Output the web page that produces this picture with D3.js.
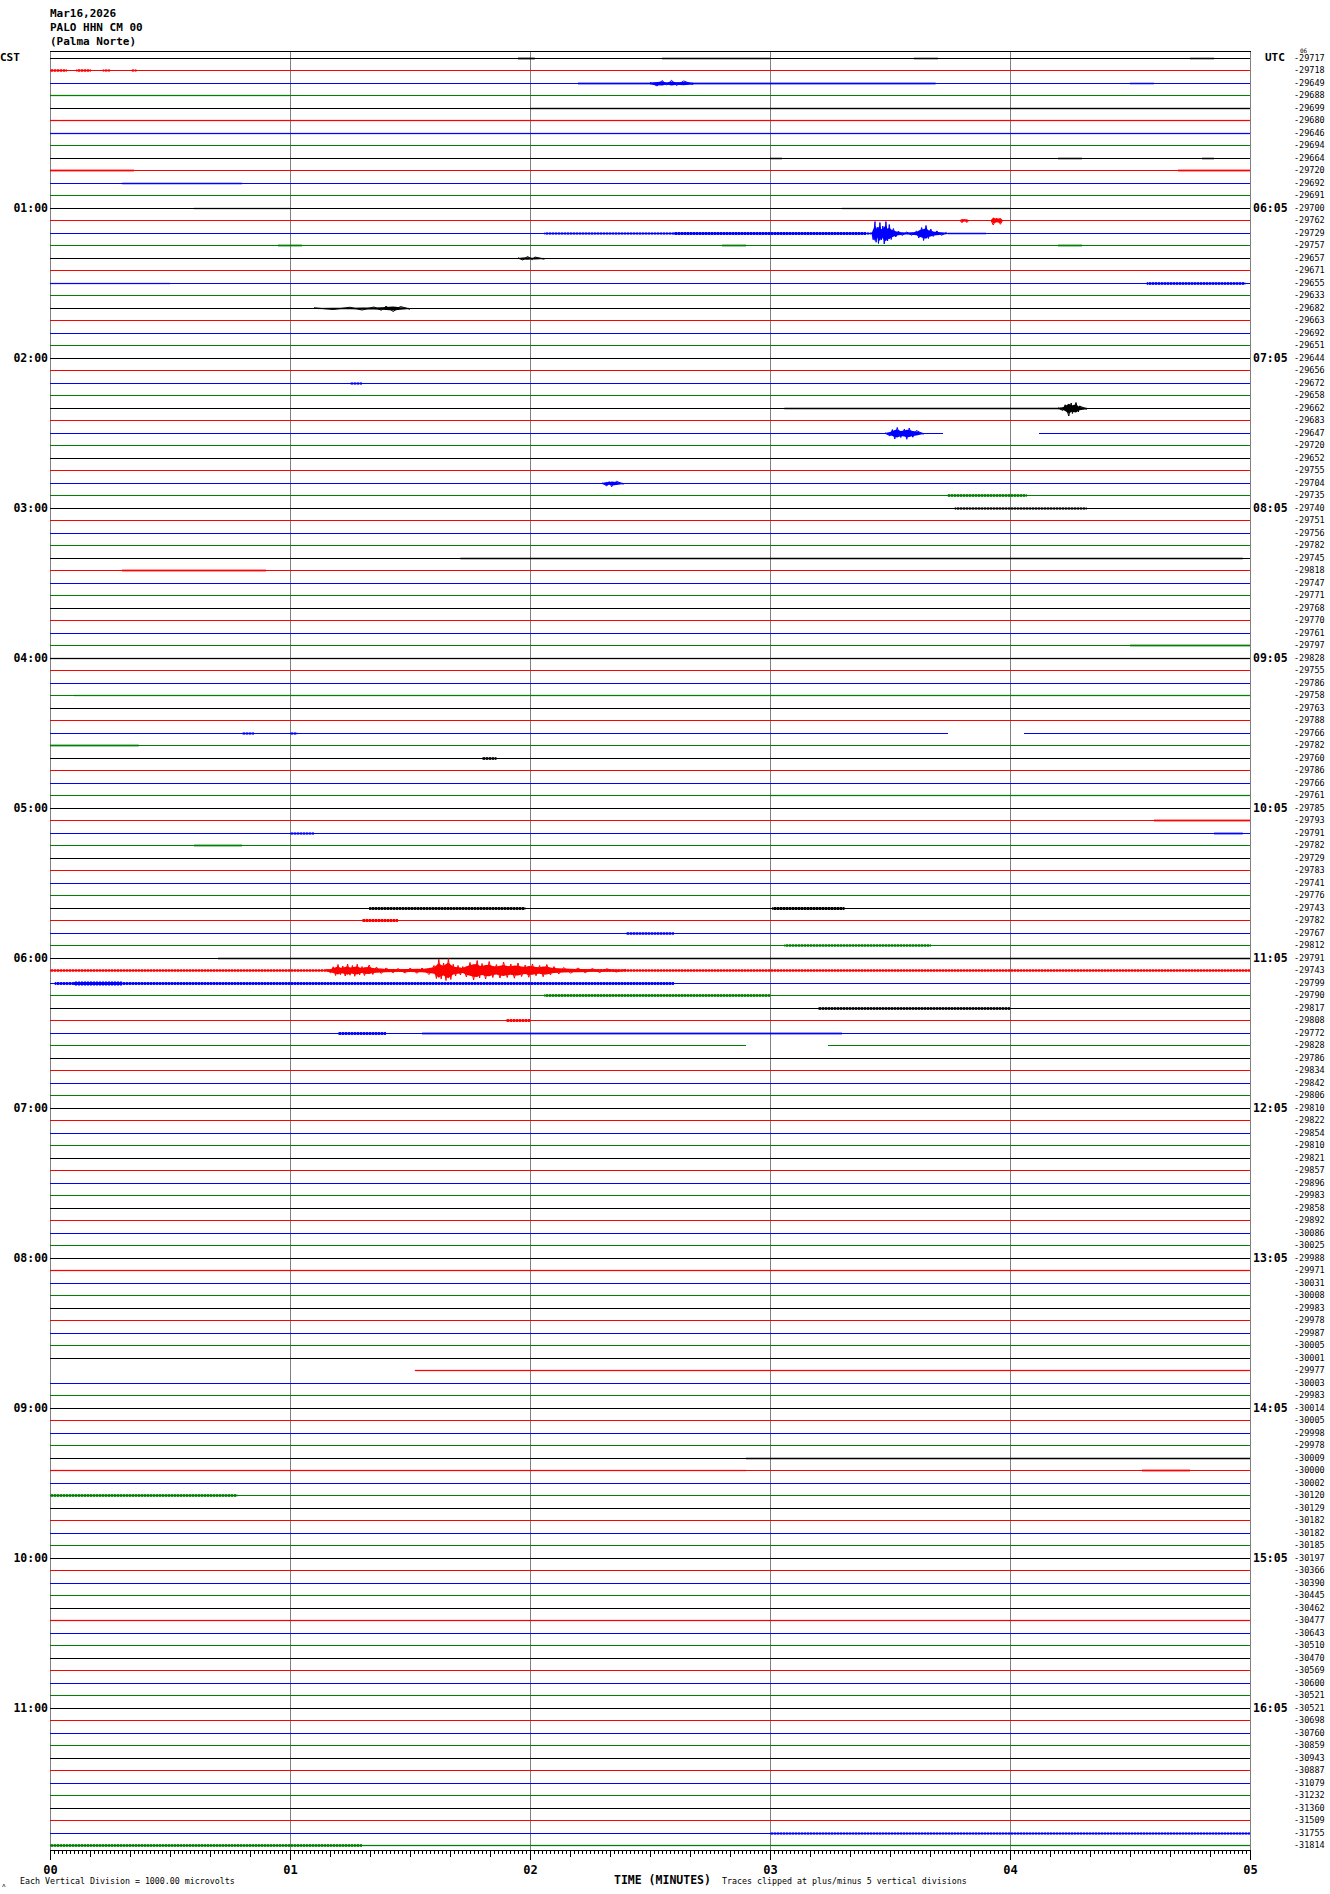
<!DOCTYPE html>
<html><head><meta charset="utf-8">
<script src="https://cdn.jsdelivr.net/npm/d3@7"></script>
<style>body{margin:0;background:#fff}svg{display:block}</style>
</head><body><svg id="c" width="1330" height="1894"></svg>
<script>
// ---------- DATA ----------
const titleLines = ["Mar16,2026", "PALO HHN CM 00", "(Palma Norte)"];
const rightLabels = [
-29717,-29718,-29649,-29688,-29699,-29680,-29646,-29694,-29664,-29720,-29692,-29691,
-29700,-29762,-29729,-29757,-29657,-29671,-29655,-29633,-29682,-29663,-29692,-29651,
-29644,-29656,-29672,-29658,-29662,-29683,-29647,-29720,-29652,-29755,-29704,-29735,
-29740,-29751,-29756,-29782,-29745,-29818,-29747,-29771,-29768,-29770,-29761,-29797,
-29828,-29755,-29786,-29758,-29763,-29788,-29766,-29782,-29760,-29786,-29766,-29761,
-29785,-29793,-29791,-29782,-29729,-29783,-29741,-29776,-29743,-29782,-29767,-29812,
-29791,-29743,-29799,-29790,-29817,-29808,-29772,-29828,-29786,-29834,-29842,-29806,
-29810,-29822,-29854,-29810,-29821,-29857,-29896,-29983,-29858,-29892,-30086,-30025,
-29988,-29971,-30031,-30008,-29983,-29978,-29987,-30005,-30001,-29977,-30003,-29983,
-30014,-30005,-29998,-29978,-30009,-30000,-30002,-30120,-30129,-30182,-30182,-30185,
-30197,-30366,-30390,-30445,-30462,-30477,-30643,-30510,-30470,-30569,-30600,-30521,
-30521,-30698,-30760,-30859,-30943,-30887,-31079,-31232,-31360,-31509,-31755,-31814];
const leftHourLabels  = ["01:00","02:00","03:00","04:00","05:00","06:00","07:00","08:00","09:00","10:00","11:00"];
const rightHourLabels = ["06:05","07:05","08:05","09:05","10:05","11:05","12:05","13:05","14:05","15:05","16:05"];
const minuteLabels = ["00","01","02","03","04","05"];
const traceColors = ["#000000","#ff0000","#0000ff","#008000"];

// low-level noise bands: [trace, startMin, endMin, amplitude (vertical divisions)]
const noiseBands = [
[0,1.95,2.02,0.35],[0,2.55,3.0,0.3],[0,3.6,3.7,0.3],[0,4.75,4.85,0.3],
[1,0.0,0.07,0.45],[1,0.11,0.17,0.45],[1,0.22,0.25,0.4],[1,0.34,0.36,0.4],
[2,2.20,3.69,0.35],[2,4.5,4.6,0.3],
[3,0.0,1.0,0.25],[4,2.0,5.0,0.28],[5,0.0,5.0,0.25],[6,0.0,5.0,0.25],[7,0.0,5.0,0.2],
[8,3.0,3.05,0.3],[8,4.2,4.3,0.3],[8,4.8,4.85,0.3],
[9,0.0,0.35,0.35],[9,4.7,5.0,0.35],[10,0.3,0.8,0.3],
[12,0.6,1.0,0.25],[12,3.3,4.0,0.25],
[14,2.06,3.42,0.4],[14,2.6,3.4,0.55],[14,3.74,3.9,0.3],
[15,0.95,1.05,0.35],[15,2.8,2.9,0.35],[15,4.2,4.3,0.35],
[17,0.0,5.0,0.2],[18,4.57,4.98,0.5],[18,0.0,0.5,0.25],
[21,0.0,5.0,0.2],[25,0.0,5.0,0.2],[26,1.25,1.3,0.4],
[28,3.06,4.32,0.3],[31,0.0,5.0,0.2],[33,0.0,5.0,0.2],
[35,3.74,4.07,0.5],[36,3.77,4.32,0.4],[40,1.71,4.97,0.3],[41,0.3,0.9,0.35],
[47,4.5,5.0,0.35],[48,0.0,5.0,0.25],[49,0.0,5.0,0.2],[51,0.1,5.0,0.25],[53,0.0,5.0,0.2],
[54,0.80,0.85,0.4],[54,1.0,1.03,0.4],[55,0.0,0.37,0.35],
[56,1.80,1.86,0.5],[59,3.0,5.0,0.25],[61,4.6,5.0,0.35],[62,1.0,1.1,0.4],[62,4.85,4.97,0.35],[63,0.6,0.8,0.35],
[67,0.0,5.0,0.2],[68,1.33,1.98,0.55],[68,3.01,3.31,0.6],[69,1.30,1.45,0.6],[70,2.4,2.6,0.45],
[71,3.06,3.67,0.45],[72,0.7,5.0,0.3],[73,0.0,5.0,0.45],
[74,0.02,2.6,0.55],[74,0.1,0.3,0.8],[75,2.06,3.0,0.5],[76,3.2,4.0,0.5],[77,1.9,2.0,0.55],
[78,1.2,1.4,0.55],[78,1.55,3.3,0.35],[81,0.0,5.0,0.2],[85,0.0,5.0,0.2],[89,0.0,5.0,0.2],
[93,0.0,5.0,0.2],[97,0.0,5.0,0.25],[101,0.0,5.0,0.2],[105,1.52,5.0,0.25],
[112,2.9,5.0,0.3],[113,0.0,2.9,0.25],[113,4.55,4.75,0.35],
[115,0.0,0.78,0.5],[117,0.0,5.0,0.2],[121,0.0,5.0,0.2],[125,0.0,5.0,0.25],[129,0.0,5.0,0.2],
[133,0.0,5.0,0.2],[137,0.0,5.0,0.2],[141,0.0,5.0,0.2],[142,3.0,5.0,0.4],[143,0.0,1.3,0.5],[143,1.3,5.0,0.25]
];

// larger events: [trace, [[minute, peak amplitude in divisions], ...]]
const bursts = [
[2,[[2.50,0.4],[2.53,1.0],[2.55,1.2],[2.57,0.6],[2.59,1.3],[2.61,0.8],[2.64,1.0],[2.68,0.4]]],
[13,[[3.79,0.2],[3.80,0.9],[3.81,0.6],[3.82,0.8],[3.83,0.2]]],
[13,[[3.92,0.2],[3.93,1.8],[3.945,1.0],[3.96,1.5],[3.97,0.2]]],
[14,[[3.424,0.5],[3.43,2.5],[3.4375,4.8],[3.442,3.5],[3.447,2.5],[3.452,4.0],[3.458,4.4],[3.464,2.6],[3.47,3.0],[3.476,4.2],[3.483,4.8],[3.49,3.0],[3.497,3.6],[3.505,2.4],[3.514,2.0],[3.524,1.4],[3.535,1.0],[3.55,0.8],[3.57,0.6],[3.59,0.7],[3.611,1.0],[3.62,1.8],[3.632,2.4],[3.64,2.8],[3.65,3.2],[3.66,2.0],[3.67,1.8],[3.68,1.2],[3.695,1.0],[3.715,0.7],[3.736,0.5]]],
[16,[[1.95,0.3],[1.97,0.6],[1.99,0.8],[2.01,0.5],[2.02,0.6],[2.06,0.3]]],
[20,[[1.10,0.3],[1.18,0.4],[1.25,0.5],[1.30,0.6],[1.35,0.6],[1.38,0.7],[1.40,0.9],[1.43,1.2],[1.46,0.8],[1.50,0.3]]],
[28,[[4.20,0.3],[4.22,0.8],[4.23,1.5],[4.245,3.0],[4.255,2.2],[4.26,2.0],[4.275,2.4],[4.285,1.4],[4.29,1.0],[4.32,0.3]]],
[30,[[3.48,0.3],[3.50,1.0],[3.51,1.6],[3.52,2.2],[3.53,2.4],[3.545,1.6],[3.56,1.8],[3.57,2.3],[3.58,2.2],[3.595,1.5],[3.61,1.2],[3.64,0.3]]],
[34,[[2.30,0.3],[2.32,1.0],[2.33,0.8],[2.34,1.3],[2.36,0.9],[2.39,0.3]]],
[73,[[1.15,0.5],[1.17,1.0],[1.18,1.5],[1.19,2.0],[1.20,2.4],[1.21,1.7],[1.22,1.8],[1.23,2.2],[1.24,2.6],[1.25,1.9],[1.26,2.0],[1.27,2.3],[1.28,2.5],[1.29,1.8],[1.30,1.6],[1.31,2.0],[1.33,2.2],[1.345,1.6],[1.36,1.4],[1.38,1.2],[1.40,1.0],[1.43,0.9],[1.45,0.8],[1.48,1.0],[1.50,0.9],[1.53,1.1],[1.55,1.0],[1.58,1.6],[1.60,2.0],[1.61,3.2],[1.62,4.5],[1.63,3.4],[1.64,3.0],[1.65,4.0],[1.66,4.8],[1.67,3.6],[1.68,2.5],[1.69,2.2],[1.70,2.0],[1.71,1.8],[1.72,1.6],[1.735,2.6],[1.75,3.2],[1.765,3.8],[1.78,4.0],[1.79,3.0],[1.80,2.8],[1.815,3.4],[1.83,3.6],[1.845,2.8],[1.86,2.4],[1.875,3.0],[1.89,3.4],[1.905,2.8],[1.92,2.6],[1.935,3.1],[1.95,3.0],[1.965,2.4],[1.98,2.2],[1.995,2.7],[2.01,2.6],[2.025,2.1],[2.04,2.0],[2.055,2.5],[2.07,2.4],[2.085,1.8],[2.10,1.6],[2.12,1.4],[2.14,1.2],[2.17,1.1],[2.20,1.0],[2.23,0.9],[2.26,0.8],[2.29,0.8],[2.32,0.7],[2.36,0.6],[2.40,0.5]]]
];

// data gaps: [trace, startMin, endMin]
const gaps = [[30,3.72,4.12],[54,3.74,4.06],[79,2.90,3.24],[105,0.0,1.52]];

// ---------- DRAW ----------
const svg = d3.select("#c");
svg.append("rect").attr("width",1330).attr("height",1894).attr("fill","#fff");
const nT = rightLabels.length;
const x = d3.scaleLinear().domain([0,5]).range([50,1250]);
const yT = d3.scaleLinear().domain([0,nT-1]).range([57.7,1845.2]);
const amp = d3.scaleLinear().domain([0,5]).range([0,12.5]).clamp(true);
const yRow = i => Math.round(yT(i)) + 0.5;
const mono = "'DejaVu Sans Mono', 'Liberation Mono', monospace";

// hatch patterns per colour (gives the noise bands a hairy texture)
const defs = svg.append("defs");
traceColors.forEach((c,k)=>{
  const p = defs.append("pattern").attr("id","hatch"+k).attr("patternUnits","userSpaceOnUse")
    .attr("width",3).attr("height",4);
  p.append("rect").attr("width",2).attr("height",4).attr("fill",c);
});

// title
svg.selectAll("text.title").data(titleLines).join("text")
  .attr("x",50).attr("y",(d,i)=>16.5+i*14)
  .attr("font-family",mono).attr("font-weight","bold").attr("font-size",11).text(d=>d);
svg.append("text").attr("x",0).attr("y",61).attr("font-family",mono).attr("font-weight","bold").attr("font-size",11).text("CST");
svg.append("text").attr("x",1265).attr("y",61).attr("font-family",mono).attr("font-weight","bold").attr("font-size",11).text("UTC");
svg.append("text").attr("x",1300).attr("y",53).attr("font-family",mono).attr("font-size",6).text("06");

// grid
const grid = svg.append("g");
grid.selectAll("line").data(d3.range(0,6)).join("line")
  .attr("x1",d=>Math.round(x(d))+0.5).attr("x2",d=>Math.round(x(d))+0.5)
  .attr("y1",51).attr("y2",1850).attr("stroke","#808080").attr("stroke-width",1);
grid.append("line").attr("x1",50).attr("x2",1251).attr("y1",51.5).attr("y2",51.5).attr("stroke","#000");

// traces
const gT = svg.append("g");
const line = d3.line().x(d=>x(d[0])).y(d=>d[1]);
for (let i=0;i<nT;i++){
  const k4 = i%4, col = traceColors[k4];
  const yb = yRow(i);
  noiseBands.filter(b=>b[0]===i).forEach(b=>{
    const a = amp(b[3]);
    const w = Math.max(1,x(b[2])-x(b[1]));
    if (b[3] >= 0.4) {
      gT.append("rect").attr("x",x(b[1])).attr("width",w)
        .attr("y",yb-a).attr("height",2*a).attr("fill",`url(#hatch${k4})`);
      gT.append("rect").attr("x",x(b[1])).attr("width",w)
        .attr("y",yb-a*0.7).attr("height",a*1.4).attr("fill",col);
    } else {
      gT.append("rect").attr("x",x(b[1])).attr("width",w)
        .attr("y",yb-a).attr("height",2*a).attr("fill",col);
    }
  });
  bursts.filter(b=>b[0]===i).forEach(b=>{
    const ar = d3.area().x(d=>x(d[0])).y0(d=>yb+amp(d[1])*0.65).y1(d=>yb-amp(d[1])*0.65);
    gT.append("path").attr("d",ar(b[1])).attr("fill",col);
    const zz = d3.line().x(d=>x(d[0])).y((d,k)=>yb+(k%2?1:-1)*amp(d[1]));
    gT.append("path").attr("d",zz(b[1])).attr("fill","none").attr("stroke",col).attr("stroke-width",1);
  });
  let segs=[[0,5]];
  gaps.filter(g=>g[0]===i).forEach(g=>{
    const out=[];
    segs.forEach(s=>{
      if (g[2]<=s[0]||g[1]>=s[1]) {out.push(s);return;}
      if (g[1]>s[0]) out.push([s[0],g[1]]);
      if (g[2]<s[1]) out.push([g[2],s[1]]);
    });
    segs=out;
  });
  segs.forEach(s=>{
    gT.append("path").attr("d",line([[s[0],yb],[s[1],yb]]))
      .attr("stroke",col).attr("stroke-width",1).attr("fill","none").attr("shape-rendering","crispEdges");
  });
}

// right labels
svg.append("g").selectAll("text").data(rightLabels).join("text")
  .attr("x",1294).attr("y",(d,i)=>yT(i)+3)
  .attr("font-family",mono).attr("font-size",8.5).text(d=>d);

// hour labels
svg.append("g").selectAll("text").data(leftHourLabels).join("text")
  .attr("x",48).attr("y",(d,i)=>yT((i+1)*12)+4).attr("text-anchor","end")
  .attr("font-family",mono).attr("font-weight","bold").attr("font-size",11.5).text(d=>d);
svg.append("g").selectAll("text").data(rightHourLabels).join("text")
  .attr("x",1253).attr("y",(d,i)=>yT((i+1)*12)+4)
  .attr("font-family",mono).attr("font-weight","bold").attr("font-size",11.5).text(d=>d);

// bottom axis
const axY = 1850;
const gA = svg.append("g").attr("transform",`translate(0,${axY})`);
gA.call(d3.axisBottom(x).tickValues(d3.range(0,5+1e-9,1/60)).tickSize(4).tickFormat(""));
gA.call(g=>g.select(".domain").remove());
const gA2 = svg.append("g").attr("transform",`translate(0,${axY})`);
gA2.call(d3.axisBottom(x).tickValues(d3.range(0,5+1e-9,1/6)).tickSize(7).tickFormat(""));
gA2.call(g=>g.select(".domain").remove());
const gA3 = svg.append("g").attr("transform",`translate(0,${axY})`);
gA3.call(d3.axisBottom(x).tickValues(d3.range(0,6)).tickSize(10).tickSizeOuter(0).tickFormat((d,i)=>minuteLabels[i]));
gA3.selectAll("text").attr("font-family",mono).attr("font-weight","bold").attr("font-size",12).attr("dy","0.9em").attr("fill","#000");
svg.selectAll(".tick line").attr("stroke","#000");
gA3.select(".domain").attr("stroke","#000");

svg.append("text").attr("x",20).attr("y",1884).attr("font-family",mono).attr("font-size",8.3).text("Each Vertical Division = 1000.00 microvolts");
svg.append("text").attr("x",614).attr("y",1884).attr("font-family",mono).attr("font-weight","bold").attr("font-size",11.5).text("TIME (MINUTES)");
svg.append("text").attr("x",722).attr("y",1884).attr("font-family",mono).attr("font-size",8.3).text("Traces clipped at plus/minus 5 vertical divisions");
svg.append("text").attr("x",2).attr("y",1887).attr("font-family",mono).attr("font-size",6).text("ᴧ");
</script></body></html>
